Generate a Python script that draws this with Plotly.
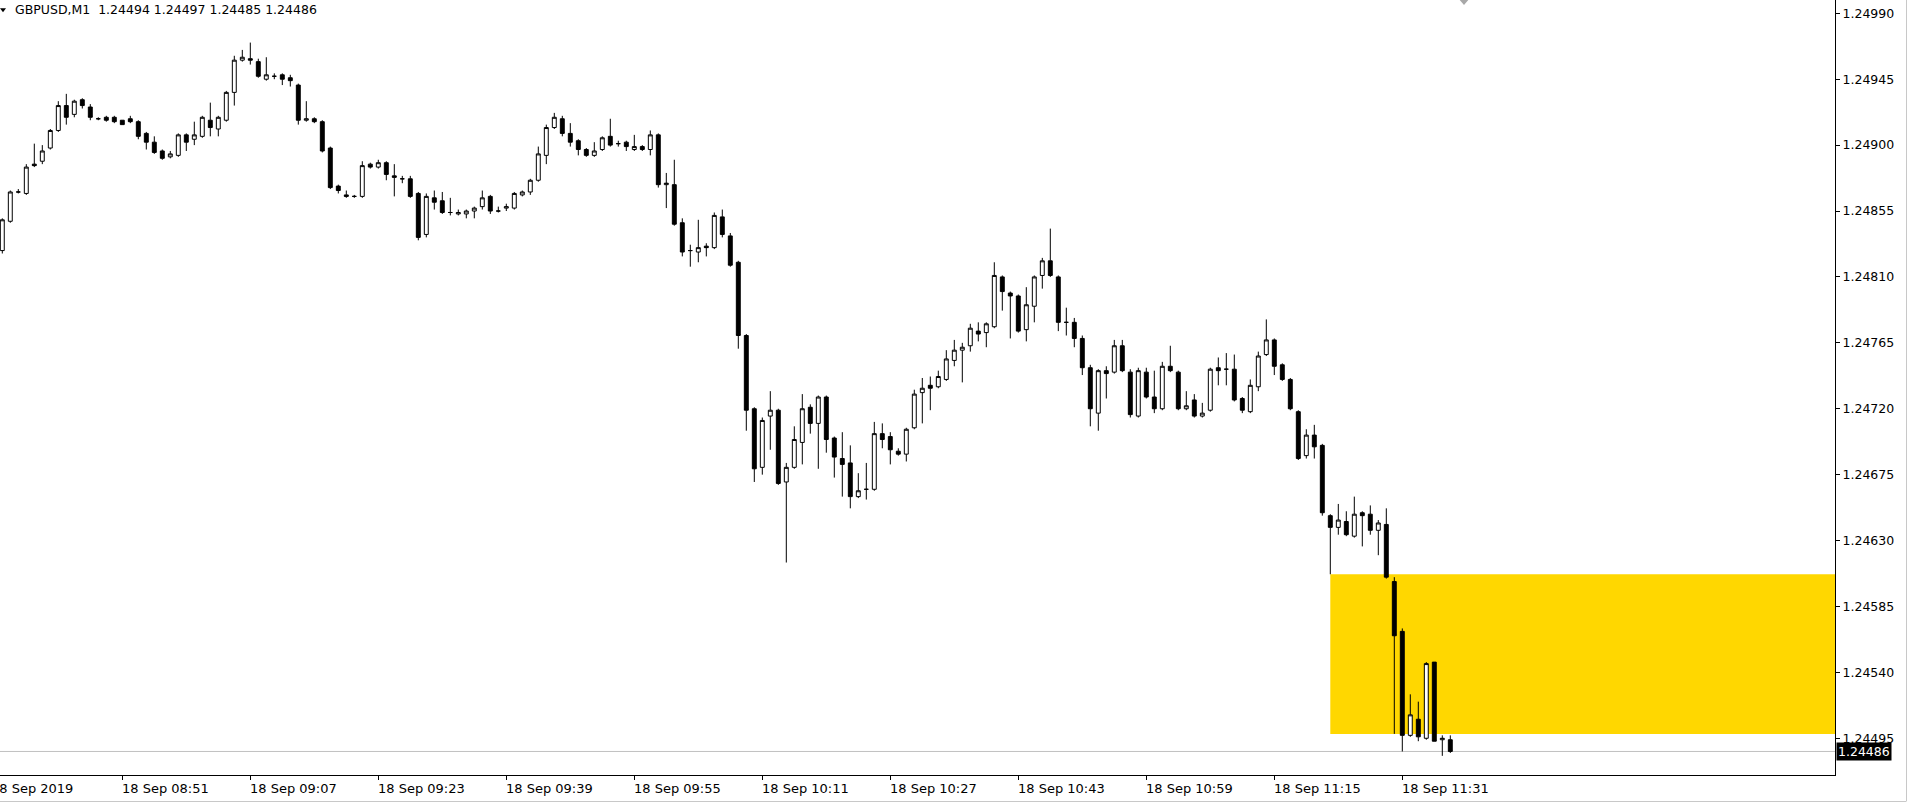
import pandas as pd
import plotly.graph_objects as go

symbol_title = "GBPUSD,M1  1.24494 1.24497 1.24485 1.24486"
first_bar = "2019-09-18 08:36"

opens = [
    1.24828, 1.24848, 1.24868, 1.24867, 1.24887, 1.24889, 1.24898, 1.24910, 1.24927, 1.24921,
    1.24931, 1.24926, 1.24918, 1.24919, 1.24919, 1.24917, 1.24918, 1.24916, 1.24908, 1.24902,
    1.24896, 1.24892, 1.24893, 1.24907, 1.24904, 1.24906, 1.24917, 1.24911, 1.24917, 1.24936,
    1.24958, 1.24959, 1.24957, 1.24945, 1.24947, 1.24948, 1.24946, 1.24941, 1.24917, 1.24918,
    1.24916, 1.24898, 1.24872, 1.24866, 1.24865, 1.24865, 1.24887, 1.24885, 1.24888, 1.24879,
    1.24877, 1.24877, 1.24867, 1.24839, 1.24864, 1.24862, 1.24854, 1.24853, 1.24853, 1.24855,
    1.24858, 1.24865, 1.24855, 1.24857, 1.24857, 1.24866, 1.24868, 1.24876, 1.24893, 1.24912,
    1.24918, 1.24908, 1.24903, 1.24897, 1.24893, 1.24897, 1.24906, 1.24901, 1.24902, 1.24897,
    1.24899, 1.24897, 1.24907, 1.24873, 1.24873, 1.24847, 1.24828, 1.24827, 1.24831, 1.24830,
    1.24851, 1.24838, 1.24820, 1.24770, 1.24720, 1.24680, 1.24715, 1.24719, 1.24670, 1.24680,
    1.24697, 1.24721, 1.24710, 1.24728, 1.24700, 1.24686, 1.24683, 1.24660, 1.24665, 1.24665,
    1.24703, 1.24701, 1.24691, 1.24689, 1.24707, 1.24731, 1.24736, 1.24735, 1.24740, 1.24753,
    1.24760, 1.24763, 1.24773, 1.24772, 1.24776, 1.24810, 1.24799, 1.24797, 1.24774, 1.24790,
    1.24811, 1.24821, 1.24810, 1.24779, 1.24779, 1.24768, 1.24748, 1.24717, 1.24746, 1.24745,
    1.24763, 1.24745, 1.24715, 1.24745, 1.24728, 1.24720, 1.24749, 1.24745, 1.24720, 1.24726,
    1.24715, 1.24719, 1.24748, 1.24747, 1.24747, 1.24727, 1.24718, 1.24735, 1.24757, 1.24767,
    1.24750, 1.24740, 1.24718, 1.24688, 1.24702, 1.24695, 1.24647, 1.24639, 1.24643, 1.24633,
    1.24649, 1.24648, 1.24637, 1.24641, 1.24602, 1.24568, 1.24497, 1.24508, 1.24495, 1.24547,
    1.24494, 1.24494,
]
highs = [
    1.24850, 1.24869, 1.24870, 1.24887, 1.24901, 1.24900, 1.24911, 1.24930, 1.24935, 1.24931,
    1.24932, 1.24928, 1.24919, 1.24920, 1.24920, 1.24917, 1.24920, 1.24917, 1.24909, 1.24906,
    1.24897, 1.24896, 1.24908, 1.24908, 1.24916, 1.24920, 1.24929, 1.24920, 1.24937, 1.24961,
    1.24965, 1.24970, 1.24959, 1.24960, 1.24949, 1.24949, 1.24948, 1.24942, 1.24930, 1.24919,
    1.24917, 1.24899, 1.24873, 1.24869, 1.24866, 1.24889, 1.24888, 1.24890, 1.24889, 1.24887,
    1.24879, 1.24879, 1.24868, 1.24867, 1.24869, 1.24868, 1.24864, 1.24856, 1.24856, 1.24858,
    1.24869, 1.24866, 1.24858, 1.24860, 1.24868, 1.24869, 1.24877, 1.24899, 1.24914, 1.24922,
    1.24920, 1.24915, 1.24904, 1.24898, 1.24902, 1.24906, 1.24918, 1.24903, 1.24903, 1.24907,
    1.24900, 1.24910, 1.24908, 1.24881, 1.24890, 1.24850, 1.24832, 1.24849, 1.24833, 1.24854,
    1.24856, 1.24840, 1.24821, 1.24771, 1.24721, 1.24714, 1.24732, 1.24720, 1.24683, 1.24708,
    1.24730, 1.24723, 1.24729, 1.24729, 1.24701, 1.24704, 1.24695, 1.24676, 1.24683, 1.24711,
    1.24710, 1.24704, 1.24693, 1.24707, 1.24733, 1.24741, 1.24742, 1.24746, 1.24760, 1.24767,
    1.24765, 1.24778, 1.24779, 1.24779, 1.24820, 1.24811, 1.24800, 1.24798, 1.24803, 1.24811,
    1.24823, 1.24843, 1.24811, 1.24789, 1.24782, 1.24770, 1.24750, 1.24747, 1.24749, 1.24767,
    1.24767, 1.24747, 1.24748, 1.24748, 1.24746, 1.24752, 1.24763, 1.24746, 1.24732, 1.24730,
    1.24724, 1.24748, 1.24755, 1.24758, 1.24757, 1.24728, 1.24740, 1.24759, 1.24781, 1.24768,
    1.24751, 1.24741, 1.24719, 1.24706, 1.24709, 1.24696, 1.24648, 1.24655, 1.24650, 1.24660,
    1.24650, 1.24654, 1.24644, 1.24652, 1.24605, 1.24570, 1.24525, 1.24520, 1.24547, 1.24547,
    1.24497, 1.24497,
]
lows = [
    1.24826, 1.24847, 1.24867, 1.24866, 1.24885, 1.24887, 1.24897, 1.24909, 1.24914, 1.24919,
    1.24925, 1.24917, 1.24917, 1.24916, 1.24915, 1.24914, 1.24915, 1.24904, 1.24897, 1.24894,
    1.24890, 1.24891, 1.24892, 1.24896, 1.24900, 1.24905, 1.24906, 1.24906, 1.24916, 1.24927,
    1.24957, 1.24955, 1.24946, 1.24944, 1.24945, 1.24941, 1.24940, 1.24914, 1.24916, 1.24915,
    1.24895, 1.24870, 1.24867, 1.24864, 1.24864, 1.24864, 1.24884, 1.24884, 1.24876, 1.24865,
    1.24874, 1.24864, 1.24835, 1.24837, 1.24856, 1.24853, 1.24852, 1.24852, 1.24850, 1.24850,
    1.24856, 1.24853, 1.24854, 1.24855, 1.24856, 1.24865, 1.24866, 1.24875, 1.24887, 1.24911,
    1.24906, 1.24899, 1.24893, 1.24892, 1.24892, 1.24896, 1.24899, 1.24899, 1.24896, 1.24896,
    1.24896, 1.24893, 1.24871, 1.24857, 1.24845, 1.24824, 1.24817, 1.24820, 1.24824, 1.24829,
    1.24837, 1.24817, 1.24761, 1.24705, 1.24670, 1.24675, 1.24692, 1.24668, 1.24615, 1.24679,
    1.24682, 1.24703, 1.24679, 1.24690, 1.24673, 1.24660, 1.24652, 1.24659, 1.24658, 1.24664,
    1.24693, 1.24682, 1.24688, 1.24684, 1.24706, 1.24710, 1.24719, 1.24734, 1.24739, 1.24749,
    1.24738, 1.24759, 1.24766, 1.24762, 1.24775, 1.24787, 1.24768, 1.24772, 1.24766, 1.24779,
    1.24802, 1.24810, 1.24773, 1.24770, 1.24762, 1.24743, 1.24708, 1.24705, 1.24727, 1.24744,
    1.24745, 1.24714, 1.24714, 1.24727, 1.24717, 1.24719, 1.24745, 1.24719, 1.24719, 1.24714,
    1.24714, 1.24718, 1.24736, 1.24736, 1.24725, 1.24717, 1.24717, 1.24732, 1.24756, 1.24743,
    1.24739, 1.24719, 1.24685, 1.24686, 1.24686, 1.24647, 1.24607, 1.24634, 1.24633, 1.24632,
    1.24626, 1.24634, 1.24620, 1.24604, 1.24498, 1.24486, 1.24496, 1.24493, 1.24494, 1.24493,
    1.24483, 1.24485,
]
closes = [
    1.24849, 1.24868, 1.24868, 1.24885, 1.24886, 1.24896, 1.24910, 1.24927, 1.24919, 1.24930,
    1.24927, 1.24919, 1.24918, 1.24917, 1.24916, 1.24914, 1.24916, 1.24906, 1.24902, 1.24895,
    1.24891, 1.24894, 1.24907, 1.24902, 1.24907, 1.24919, 1.24912, 1.24919, 1.24936, 1.24958,
    1.24960, 1.24958, 1.24947, 1.24948, 1.24947, 1.24945, 1.24944, 1.24917, 1.24918, 1.24916,
    1.24896, 1.24871, 1.24869, 1.24865, 1.24865, 1.24886, 1.24885, 1.24888, 1.24880, 1.24878,
    1.24877, 1.24865, 1.24837, 1.24865, 1.24861, 1.24854, 1.24854, 1.24854, 1.24855, 1.24857,
    1.24864, 1.24855, 1.24855, 1.24858, 1.24867, 1.24868, 1.24876, 1.24894, 1.24912, 1.24919,
    1.24908, 1.24902, 1.24897, 1.24893, 1.24896, 1.24905, 1.24900, 1.24901, 1.24899, 1.24899,
    1.24897, 1.24907, 1.24873, 1.24874, 1.24846, 1.24827, 1.24828, 1.24830, 1.24830, 1.24852,
    1.24839, 1.24818, 1.24770, 1.24719, 1.24679, 1.24712, 1.24719, 1.24669, 1.24680, 1.24699,
    1.24720, 1.24710, 1.24728, 1.24699, 1.24687, 1.24682, 1.24660, 1.24664, 1.24665, 1.24703,
    1.24699, 1.24692, 1.24689, 1.24706, 1.24730, 1.24734, 1.24734, 1.24742, 1.24754, 1.24760,
    1.24762, 1.24775, 1.24771, 1.24778, 1.24811, 1.24800, 1.24797, 1.24773, 1.24791, 1.24810,
    1.24821, 1.24811, 1.24779, 1.24779, 1.24768, 1.24748, 1.24720, 1.24746, 1.24744, 1.24763,
    1.24746, 1.24716, 1.24746, 1.24728, 1.24720, 1.24749, 1.24746, 1.24720, 1.24722, 1.24715,
    1.24717, 1.24747, 1.24746, 1.24747, 1.24726, 1.24719, 1.24736, 1.24756, 1.24767, 1.24749,
    1.24740, 1.24720, 1.24686, 1.24702, 1.24694, 1.24649, 1.24639, 1.24644, 1.24634, 1.24648,
    1.24647, 1.24637, 1.24642, 1.24605, 1.24565, 1.24497, 1.24511, 1.24496, 1.24546, 1.24493,
    1.24495, 1.24486,
]

y_ticks = [1.24495, 1.24540, 1.24585, 1.24630, 1.24675, 1.24720,
           1.24765, 1.24810, 1.24855, 1.24900, 1.24945, 1.24990]
x_tick_times = ["08:51", "09:07", "09:23", "09:39", "09:55", "10:11",
                "10:27", "10:43", "10:59", "11:15", "11:31"]
first_label = "18 Sep 2019"
zone_top, zone_bottom = 1.24607, 1.24498
zone_start = "2019-09-18 11:22"
last_price = 1.24486

times = pd.date_range(first_bar, periods=len(opens), freq="min")

W, H = 1909, 803
L, R, T, B = 0, 74, 0, 28
PW, PH = W - L - R, H - T - B
ppm = 8.0            # pixels per one-minute bar
first_px = 2.3       # pixel centre of first bar

t0 = times[0]
x_start = t0 - pd.Timedelta(minutes=first_px / ppm)
x_end = t0 + pd.Timedelta(minutes=(PW - first_px) / ppm)

px_per_price = 146460.0
y_top = 1.24990 + 13.3 / px_per_price
y_bot = y_top - PH / px_per_price

FONT = "DejaVu Sans"

fig = go.Figure()
fig.add_trace(go.Candlestick(
    x=times, open=opens, high=highs, low=lows, close=closes,
    increasing=dict(line=dict(color="black", width=1), fillcolor="white"),
    decreasing=dict(line=dict(color="black", width=1), fillcolor="black"),
    whiskerwidth=0, hoverinfo="skip", showlegend=False,
))

shapes = []
shapes.append(dict(type="rect", xref="x", yref="y", layer="below",
                   x0=zone_start, x1=x_end + pd.Timedelta(minutes=30),
                   y0=zone_bottom, y1=zone_top,
                   fillcolor="#FFD700", line=dict(width=0)))
shapes.append(dict(type="line", xref="paper", yref="y", layer="below",
                   x0=0, x1=1, y0=last_price, y1=last_price,
                   line=dict(color="#C0C0C0", width=1)))
shapes.append(dict(type="path", xref="paper", yref="paper",
                   path=f"M 0,{1-8.3/PH} L {6/PW},{1-8.3/PH} L {3/PW},{1-12.3/PH} Z",
                   fillcolor="black", line=dict(width=0)))
mx = x_start + pd.Timedelta(minutes=1464 / ppm)
ms = lambda t: t.value // 10**6
shapes.append(dict(type="path", xref="x", yref="paper",
                   path=(f"M {ms(mx - pd.Timedelta(seconds=32))},1 "
                         f"L {ms(mx + pd.Timedelta(seconds=32))},1 "
                         f"L {ms(mx)},{1-5/PH} Z"),
                   fillcolor="#A8A8A8", line=dict(width=0)))
shapes.append(dict(type="line", xref="paper", yref="paper",
                   x0=-0.01, x1=1906/PW, y0=-(801.5-PH)/PH, y1=-(801.5-PH)/PH,
                   line=dict(color="#C8C8C8", width=1)))
shapes.append(dict(type="line", xref="paper", yref="paper",
                   x0=1906.5/PW, x1=1906.5/PW, y0=-(801.5-PH)/PH, y1=1.01,
                   line=dict(color="#C8C8C8", width=1)))

annotations = []
annotations.append(dict(xref="paper", yref="paper", x=13/PW, y=1-9.5/PH,
                        xanchor="left", yanchor="middle", showarrow=False,
                        text=symbol_title, font=dict(family=FONT, size=12.5, color="black")))
lab_y = -(788 - PH) / PH
annotations.append(dict(xref="paper", yref="paper", x=-6/PW, y=lab_y, xshift=-5,
                        xanchor="left", yanchor="middle", showarrow=False,
                        text=first_label, font=dict(family=FONT, size=13, color="black")))
tick_dt = [pd.Timestamp(f"2019-09-18 {t}") for t in x_tick_times]
for t, lab in zip(tick_dt, x_tick_times):
    annotations.append(dict(xref="x", yref="paper", x=t, y=lab_y, xshift=-2,
                            xanchor="left", yanchor="middle", showarrow=False,
                            text=f"18 Sep {lab}",
                            font=dict(family=FONT, size=13, color="black")))
annotations.append(dict(xref="paper", yref="y", x=1, y=last_price, xshift=1,
                        xanchor="left", yanchor="middle", showarrow=False,
                        text=f"{last_price:.5f}", bgcolor="black", borderpad=1,
                        font=dict(family=FONT, size=12.5, color="white")))

fig.update_layout(
    width=W, height=H,
    margin=dict(l=L, r=R, t=T, b=B, pad=0),
    paper_bgcolor="white", plot_bgcolor="white",
    shapes=shapes, annotations=annotations,
    xaxis=dict(type="date", range=[x_start, x_end], rangeslider=dict(visible=False),
               showgrid=False, zeroline=False, showline=True, linecolor="black",
               linewidth=1, ticks="outside", ticklen=4, tickcolor="black",
               tickvals=tick_dt, showticklabels=False, fixedrange=True),
    yaxis=dict(range=[y_bot, y_top], side="right", showgrid=False, zeroline=False,
               showline=True, linecolor="black", linewidth=1, ticks="outside",
               ticklen=4, tickcolor="black", tickvals=y_ticks, tickformat=".5f",
               tickfont=dict(family=FONT, size=12.5, color="black"), fixedrange=True),
    showlegend=False,
)

fig.write_html("out.html", config={"displayModeBar": False},
               post_script="document.body.style.margin='0px';document.body.style.padding='0px';")
